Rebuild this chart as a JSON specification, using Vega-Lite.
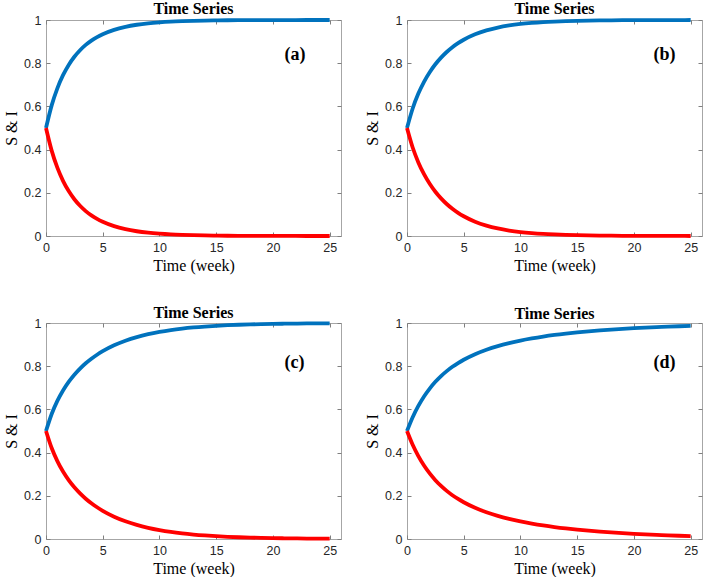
{
  "$schema": "https://vega.github.io/schema/vega-lite/v6.json",
  "padding": {"left": 3, "top": 0, "right": 5, "bottom": 0},
  "background": "white",
  "datasets": {
    "d": [
      {"p":"a","t":0,"S":0.5,"I":0.5},{"p":"a","t":0.5,"S":0.6048,"I":0.3952},{"p":"a","t":1,"S":0.6838,"I":0.3162},{"p":"a","t":1.5,"S":0.7446,"I":0.2554},{"p":"a","t":2,"S":0.7922,"I":0.2078},{"p":"a","t":2.5,"S":0.83,"I":0.17},{"p":"a","t":3,"S":0.8602,"I":0.1398},{"p":"a","t":3.5,"S":0.8847,"I":0.1153},{"p":"a","t":4,"S":0.9046,"I":0.0954},{"p":"a","t":4.5,"S":0.9209,"I":0.0791},{"p":"a","t":5,"S":0.9343,"I":0.0657},{"p":"a","t":6,"S":0.9545,"I":0.0455},{"p":"a","t":7,"S":0.9684,"I":0.0316},{"p":"a","t":8,"S":0.978,"I":0.022},{"p":"a","t":9,"S":0.9847,"I":0.0153},{"p":"a","t":10,"S":0.9893,"I":0.0107},{"p":"a","t":11,"S":0.9926,"I":0.0074},{"p":"a","t":12,"S":0.9948,"I":0.0052},{"p":"a","t":13,"S":0.9964,"I":0.0036},{"p":"a","t":14,"S":0.9975,"I":0.0025},{"p":"a","t":15,"S":0.9982,"I":0.0018},{"p":"a","t":16,"S":0.9988,"I":0.0012},{"p":"a","t":17,"S":0.9991,"I":0.0009},{"p":"a","t":18,"S":0.9994,"I":0.0006},{"p":"a","t":19,"S":0.9996,"I":0.0004},{"p":"a","t":20,"S":0.9997,"I":0.0003},{"p":"a","t":21,"S":0.9998,"I":0.0002},{"p":"a","t":22,"S":0.9998,"I":0.0002},{"p":"a","t":23,"S":0.9999,"I":0.0001},{"p":"a","t":24,"S":0.9999,"I":0.0001},{"p":"a","t":25,"S":0.9999,"I":0.0001},
      {"p":"b","t":0,"S":0.5,"I":0.5},{"p":"b","t":0.5,"S":0.5904,"I":0.4096},{"p":"b","t":1,"S":0.6592,"I":0.3408},{"p":"b","t":1.5,"S":0.7138,"I":0.2862},{"p":"b","t":2,"S":0.7582,"I":0.2418},{"p":"b","t":2.5,"S":0.7951,"I":0.2049},{"p":"b","t":3,"S":0.8259,"I":0.1741},{"p":"b","t":3.5,"S":0.8519,"I":0.1481},{"p":"b","t":4,"S":0.874,"I":0.126},{"p":"b","t":4.5,"S":0.8927,"I":0.1073},{"p":"b","t":5,"S":0.9086,"I":0.0914},{"p":"b","t":6,"S":0.9337,"I":0.0663},{"p":"b","t":7,"S":0.9518,"I":0.0482},{"p":"b","t":8,"S":0.965,"I":0.035},{"p":"b","t":9,"S":0.9746,"I":0.0254},{"p":"b","t":10,"S":0.9816,"I":0.0184},{"p":"b","t":11,"S":0.9866,"I":0.0134},{"p":"b","t":12,"S":0.9903,"I":0.0097},{"p":"b","t":13,"S":0.9929,"I":0.0071},{"p":"b","t":14,"S":0.9949,"I":0.0051},{"p":"b","t":15,"S":0.9963,"I":0.0037},{"p":"b","t":16,"S":0.9973,"I":0.0027},{"p":"b","t":17,"S":0.998,"I":0.002},{"p":"b","t":18,"S":0.9986,"I":0.0014},{"p":"b","t":19,"S":0.999,"I":0.001},{"p":"b","t":20,"S":0.9992,"I":0.0008},{"p":"b","t":21,"S":0.9995,"I":0.0005},{"p":"b","t":22,"S":0.9996,"I":0.0004},{"p":"b","t":23,"S":0.9997,"I":0.0003},{"p":"b","t":24,"S":0.9998,"I":0.0002},{"p":"b","t":25,"S":0.9999,"I":0.0001},
      {"p":"c","t":0,"S":0.5,"I":0.5},{"p":"c","t":0.5,"S":0.5789,"I":0.4211},{"p":"c","t":1,"S":0.6395,"I":0.3605},{"p":"c","t":1.5,"S":0.6879,"I":0.3121},{"p":"c","t":2,"S":0.7276,"I":0.2724},{"p":"c","t":2.5,"S":0.7608,"I":0.2392},{"p":"c","t":3,"S":0.789,"I":0.211},{"p":"c","t":3.5,"S":0.8134,"I":0.1866},{"p":"c","t":4,"S":0.8346,"I":0.1654},{"p":"c","t":4.5,"S":0.8531,"I":0.1469},{"p":"c","t":5,"S":0.8694,"I":0.1306},{"p":"c","t":6,"S":0.8966,"I":0.1034},{"p":"c","t":7,"S":0.918,"I":0.082},{"p":"c","t":8,"S":0.9349,"I":0.0651},{"p":"c","t":9,"S":0.9483,"I":0.0517},{"p":"c","t":10,"S":0.9589,"I":0.0411},{"p":"c","t":11,"S":0.9674,"I":0.0326},{"p":"c","t":12,"S":0.9741,"I":0.0259},{"p":"c","t":13,"S":0.9794,"I":0.0206},{"p":"c","t":14,"S":0.9836,"I":0.0164},{"p":"c","t":15,"S":0.987,"I":0.013},{"p":"c","t":16,"S":0.9897,"I":0.0103},{"p":"c","t":17,"S":0.9918,"I":0.0082},{"p":"c","t":18,"S":0.9935,"I":0.0065},{"p":"c","t":19,"S":0.9948,"I":0.0052},{"p":"c","t":20,"S":0.9959,"I":0.0041},{"p":"c","t":21,"S":0.9967,"I":0.0033},{"p":"c","t":22,"S":0.9974,"I":0.0026},{"p":"c","t":23,"S":0.9979,"I":0.0021},{"p":"c","t":24,"S":0.9984,"I":0.0016},{"p":"c","t":25,"S":0.9987,"I":0.0013},
      {"p":"d","t":0,"S":0.5,"I":0.5},{"p":"d","t":0.5,"S":0.5638,"I":0.4362},{"p":"d","t":1,"S":0.6162,"I":0.3838},{"p":"d","t":1.5,"S":0.6598,"I":0.3402},{"p":"d","t":2,"S":0.6965,"I":0.3035},{"p":"d","t":2.5,"S":0.7276,"I":0.2724},{"p":"d","t":3,"S":0.7542,"I":0.2458},{"p":"d","t":3.5,"S":0.7771,"I":0.2229},{"p":"d","t":4,"S":0.7971,"I":0.2029},{"p":"d","t":4.5,"S":0.8145,"I":0.1855},{"p":"d","t":5,"S":0.8299,"I":0.1701},{"p":"d","t":6,"S":0.8556,"I":0.1444},{"p":"d","t":7,"S":0.8763,"I":0.1237},{"p":"d","t":8,"S":0.8932,"I":0.1068},{"p":"d","t":9,"S":0.9071,"I":0.0929},{"p":"d","t":10,"S":0.9189,"I":0.0811},{"p":"d","t":11,"S":0.9288,"I":0.0712},{"p":"d","t":12,"S":0.9374,"I":0.0626},{"p":"d","t":13,"S":0.9448,"I":0.0552},{"p":"d","t":14,"S":0.9512,"I":0.0488},{"p":"d","t":15,"S":0.9568,"I":0.0432},{"p":"d","t":16,"S":0.9617,"I":0.0383},{"p":"d","t":17,"S":0.966,"I":0.034},{"p":"d","t":18,"S":0.9698,"I":0.0302},{"p":"d","t":19,"S":0.9732,"I":0.0268},{"p":"d","t":20,"S":0.9761,"I":0.0239},{"p":"d","t":21,"S":0.9787,"I":0.0213},{"p":"d","t":22,"S":0.9811,"I":0.0189},{"p":"d","t":23,"S":0.9832,"I":0.0168},{"p":"d","t":24,"S":0.985,"I":0.015},{"p":"d","t":25,"S":0.9866,"I":0.0134}
    ]
  },
  "data": {"name": "d"},
  "config": {
    "view": {"stroke": "#a6a6a6", "strokeWidth": 1},
    "axis": {"grid": false, "domain": false, "tickSize": -4, "tickColor": "#7f7f7f", "labelFont": "Liberation Sans", "labelFontSize": 12.5, "labelColor": "#262626", "titleFont": "Liberation Serif", "titleFontSize": 16, "titleFontWeight": "normal", "titleColor": "#000000", "labelPadding": 9, "labelFlush": false, "titlePadding": 4},
    "title": {"font": "Liberation Serif", "fontSize": 16, "fontWeight": "bold", "offset": -5, "color": "#000000"}
  },
  "vconcat": [
    {
      "hconcat": [
        {
          "width": 295, "height": 216, "title": "Time Series",
          "layer": [
            {"transform": [{"filter": "datum.p == 'a'"}], "mark": {"type": "line", "color": "#0072BD", "strokeWidth": 3.8, "interpolate": "monotone"},
             "encoding": {"x": {"field": "t", "type": "quantitative", "scale": {"domain": [0, 25]}, "axis": {"values": [0,5,10,15,20,25], "title": "Time (week)"}},
                          "y": {"field": "S", "type": "quantitative", "scale": {"domain": [0, 1]}, "axis": {"values": [0,0.2,0.4,0.6,0.8,1], "format": "~g", "title": "S & I"}}}},
            {"transform": [{"filter": "datum.p == 'a'"}], "mark": {"type": "line", "color": "#FF0000", "strokeWidth": 3.8, "interpolate": "monotone"},
             "encoding": {"x": {"field": "t", "type": "quantitative", "axis": {"orient": "top", "values": [0,5,10,15,20,25], "labels": false, "title": null}},
                          "y": {"field": "I", "type": "quantitative", "axis": {"orient": "right", "values": [0,0.2,0.4,0.6,0.8,1], "labels": false, "title": null}}}},
            {"data": {"values": [{}]}, "mark": {"type": "text", "text": "(a)", "font": "Liberation Serif", "fontWeight": "bold", "fontSize": 18, "align": "center", "baseline": "middle"},
             "encoding": {"x": {"datum": 21.95, "type": "quantitative", "axis": null}, "y": {"datum": 0.84, "type": "quantitative", "axis": null}}}
          ],
          "resolve": {"axis": {"x": "independent", "y": "independent"}}
        },
        {
          "width": 295, "height": 216, "title": "Time Series",
          "layer": [
            {"transform": [{"filter": "datum.p == 'b'"}], "mark": {"type": "line", "color": "#0072BD", "strokeWidth": 3.8, "interpolate": "monotone"},
             "encoding": {"x": {"field": "t", "type": "quantitative", "scale": {"domain": [0, 25]}, "axis": {"values": [0,5,10,15,20,25], "title": "Time (week)"}},
                          "y": {"field": "S", "type": "quantitative", "scale": {"domain": [0, 1]}, "axis": {"values": [0,0.2,0.4,0.6,0.8,1], "format": "~g", "title": "S & I"}}}},
            {"transform": [{"filter": "datum.p == 'b'"}], "mark": {"type": "line", "color": "#FF0000", "strokeWidth": 3.8, "interpolate": "monotone"},
             "encoding": {"x": {"field": "t", "type": "quantitative", "axis": {"orient": "top", "values": [0,5,10,15,20,25], "labels": false, "title": null}},
                          "y": {"field": "I", "type": "quantitative", "axis": {"orient": "right", "values": [0,0.2,0.4,0.6,0.8,1], "labels": false, "title": null}}}},
            {"data": {"values": [{}]}, "mark": {"type": "text", "text": "(b)", "font": "Liberation Serif", "fontWeight": "bold", "fontSize": 18, "align": "center", "baseline": "middle"},
             "encoding": {"x": {"datum": 22.7, "type": "quantitative", "axis": null}, "y": {"datum": 0.84, "type": "quantitative", "axis": null}}}
          ],
          "resolve": {"axis": {"x": "independent", "y": "independent"}}
        }
      ],
      "spacing": 22
    },
    {
      "hconcat": [
        {
          "width": 295, "height": 216, "title": "Time Series",
          "layer": [
            {"transform": [{"filter": "datum.p == 'c'"}], "mark": {"type": "line", "color": "#0072BD", "strokeWidth": 3.8, "interpolate": "monotone"},
             "encoding": {"x": {"field": "t", "type": "quantitative", "scale": {"domain": [0, 25]}, "axis": {"values": [0,5,10,15,20,25], "title": "Time (week)"}},
                          "y": {"field": "S", "type": "quantitative", "scale": {"domain": [0, 1]}, "axis": {"values": [0,0.2,0.4,0.6,0.8,1], "format": "~g", "title": "S & I"}}}},
            {"transform": [{"filter": "datum.p == 'c'"}], "mark": {"type": "line", "color": "#FF0000", "strokeWidth": 3.8, "interpolate": "monotone"},
             "encoding": {"x": {"field": "t", "type": "quantitative", "axis": {"orient": "top", "values": [0,5,10,15,20,25], "labels": false, "title": null}},
                          "y": {"field": "I", "type": "quantitative", "axis": {"orient": "right", "values": [0,0.2,0.4,0.6,0.8,1], "labels": false, "title": null}}}},
            {"data": {"values": [{}]}, "mark": {"type": "text", "text": "(c)", "font": "Liberation Serif", "fontWeight": "bold", "fontSize": 18, "align": "center", "baseline": "middle"},
             "encoding": {"x": {"datum": 21.9, "type": "quantitative", "axis": null}, "y": {"datum": 0.814, "type": "quantitative", "axis": null}}}
          ],
          "resolve": {"axis": {"x": "independent", "y": "independent"}}
        },
        {
          "width": 295, "height": 216, "title": "Time Series",
          "layer": [
            {"transform": [{"filter": "datum.p == 'd'"}], "mark": {"type": "line", "color": "#0072BD", "strokeWidth": 3.8, "interpolate": "monotone"},
             "encoding": {"x": {"field": "t", "type": "quantitative", "scale": {"domain": [0, 25]}, "axis": {"values": [0,5,10,15,20,25], "title": "Time (week)"}},
                          "y": {"field": "S", "type": "quantitative", "scale": {"domain": [0, 1]}, "axis": {"values": [0,0.2,0.4,0.6,0.8,1], "format": "~g", "title": "S & I"}}}},
            {"transform": [{"filter": "datum.p == 'd'"}], "mark": {"type": "line", "color": "#FF0000", "strokeWidth": 3.8, "interpolate": "monotone"},
             "encoding": {"x": {"field": "t", "type": "quantitative", "axis": {"orient": "top", "values": [0,5,10,15,20,25], "labels": false, "title": null}},
                          "y": {"field": "I", "type": "quantitative", "axis": {"orient": "right", "values": [0,0.2,0.4,0.6,0.8,1], "labels": false, "title": null}}}},
            {"data": {"values": [{}]}, "mark": {"type": "text", "text": "(d)", "font": "Liberation Serif", "fontWeight": "bold", "fontSize": 18, "align": "center", "baseline": "middle"},
             "encoding": {"x": {"datum": 22.7, "type": "quantitative", "axis": null}, "y": {"datum": 0.814, "type": "quantitative", "axis": null}}}
          ],
          "resolve": {"axis": {"x": "independent", "y": "independent"}}
        }
      ],
      "spacing": 22
    }
  ],
  "spacing": 30
}
